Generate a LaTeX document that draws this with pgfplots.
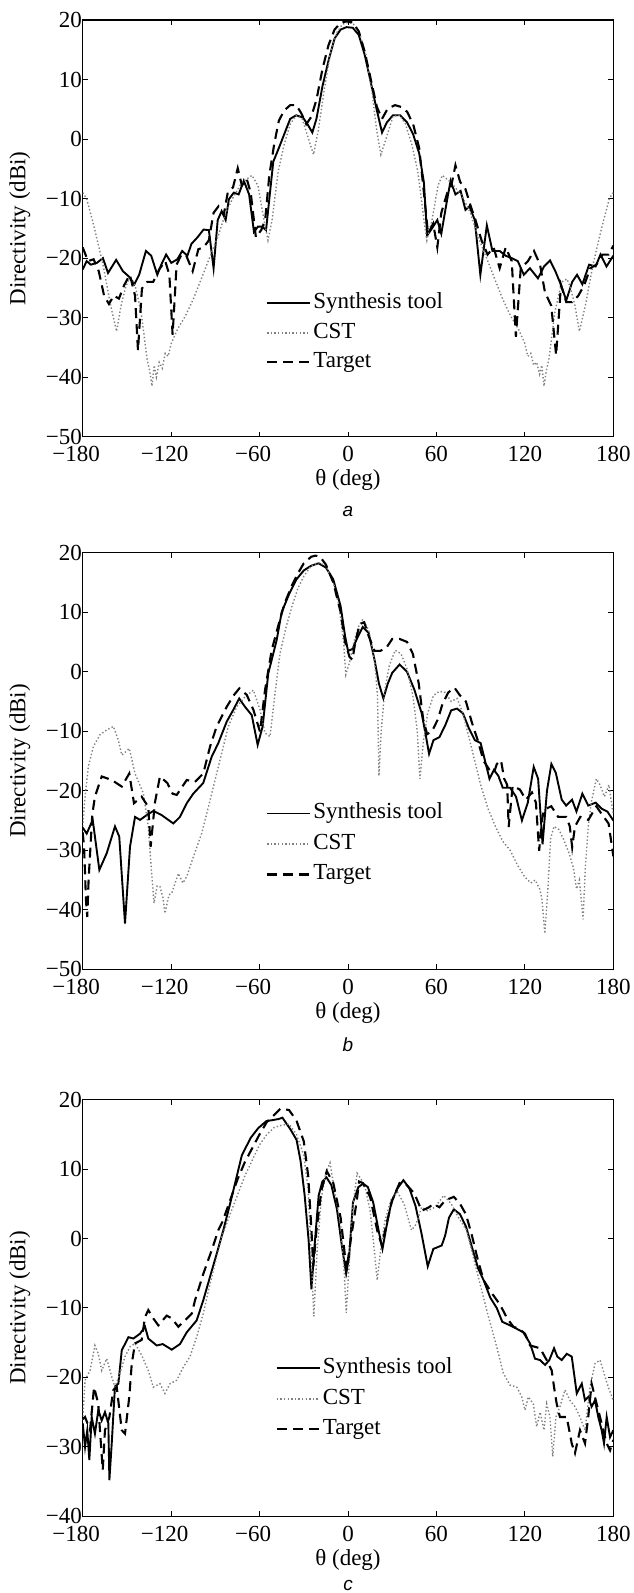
\documentclass[border=0pt]{standalone}
\usepackage{pgfplots}
\pgfplotsset{compat=1.18}
\usepackage{fontspec}
\setmainfont{Liberation Serif}
\newfontfamily\capfont{Liberation Sans}
\definecolor{cstgray}{gray}{0.5}
\newcommand\fsz{\fontsize{23}{27}\selectfont}
\pgfplotsset{
  panel/.style={
    scale only axis, width=530.6pt, height=416.7pt,
    xmin=-180, xmax=180,
    xtick={-180,-120,-60,0,60,120,180},
    xticklabels={\llap{−}180,\llap{−}120,\llap{−}60,0,60,120,180},
    tick align=inside, major tick length=5pt,
    every tick/.style={black, line width=1pt},
    axis line style={line width=1.4pt},
    tick label style={font=\fsz},
    label style={font=\fsz},
    xticklabel style={yshift=-6pt},
    yticklabel style={xshift=2.7pt},
    xlabel={θ (deg)},
    ylabel={Directivity (dBi)},
    xlabel style={at={(axis description cs:0.5,-0.104)}, anchor=center},
    ylabel style={at={(axis description cs:-0.1183,0.5)}, anchor=center},
    legend style={draw=none, fill=none, inner sep=0pt, column sep=2pt, row sep=8.5pt,
      nodes={inner sep=0pt, text height=16pt, text depth=5pt, font=\fsz}},
    legend cell align=left,
    legend image code/.code={\draw[#1] (0pt,0pt) -- (43pt,0pt);},
  },
  synth/.style={black, line width=1.9pt, solid},
  cst/.style={cstgray, line width=1.4pt, dash pattern=on 1.4pt off 2.2pt},
  targ/.style={black, line width=2.1pt, dash pattern=on 10pt off 6pt},
}
\begin{document}
\begin{tikzpicture}
% ---------------- panel a ----------------
\begin{axis}[panel, at={(82.7pt,-436.7pt)}, anchor=south west,
  ymin=-50, ymax=20, ytick={-50,-40,-30,-20,-10,0,10,20},
  yticklabels={−50,−40,−30,−20,−10,0,10,20},
  legend style={at={(axis description cs:0.3455,0.3456)}, anchor=north west}]
\addplot[synth] coordinates {
(-180,-21.9) (-177.3,-20.5) (-174.5,-21.1) (-170.4,-20.8) (-166.3,-20) (-162.8,-22.5) (-157.3,-20.3) (-152.7,-22.2) (-148.6,-23.1) (-145,-24.4) (-141.7,-22.8) (-137.1,-18.8) (-133.5,-19.6) (-129.4,-22.8) (-126.7,-21.1) (-123.4,-19.4) (-119.9,-20.8) (-115.8,-20.2) (-112.5,-18.8) (-109,-19.6) (-106.2,-17.6) (-102.1,-16.5) (-98,-15.2) (-94.4,-15.3) (-91.2,-21.7) (-88.4,-13.6) (-85.7,-12.1) (-83,-13.6) (-80.8,-10.1) (-77.5,-9) (-74.2,-9.3) (-70.7,-7) (-67.1,-9.3) (-63.8,-15.6) (-61.1,-14.7) (-58.3,-14.7) (-55.6,-15.3) (-53.4,-10.1) (-50.7,-3.8) (-46.9,-1.5) (-43.3,0.8) (-39.2,3.4) (-35.1,4) (-30.5,3.6) (-27,2.3) (-24.2,1.1) (-21.4,3.4) (-17.3,8.9) (-13.2,13.2) (-9.1,16.9) (-5,18.4) (-1,18.8) (3.2,18.7) (7.3,17.5) (11.4,14.1) (15.5,9.5) (19.6,4.8) (23.1,1.1) (26.4,2.8) (30.5,4) (35.4,4) (40.1,2.8) (44.2,0.8) (48.3,-2.4) (51.5,-7.3) (53.7,-16.2) (57,-15) (60.6,-13.6) (63.3,-15.9) (66.9,-10.7) (69.6,-7) (72.9,-9.3) (76.4,-8.7) (79.7,-11.9) (82.4,-11.3) (86,-13.6) (89.8,-22.8) (94.2,-14.5) (98,-18.8) (102.9,-18.8) (107,-19.6) (111.1,-20) (115.2,-20.5) (119.3,-22.8) (123.4,-21.7) (128.9,-23.4) (133,-21.4) (137.1,-20.4) (140.7,-22.2) (144.5,-24.5) (148.1,-27.1) (152.1,-24) (155.4,-22.8) (159,-24.4) (163.6,-21.1) (168,-21.4) (171.3,-19.4) (175.4,-21.4) (180,-19.6)};
\addlegendentry{Synthesis tool}
\addplot[cst] coordinates {
(-180,-9) (-177.3,-10) (-172,-15) (-166.3,-21) (-161,-28) (-157,-32.3) (-154,-28) (-151,-25) (-148.6,-23.5) (-145,-24) (-140.4,-29) (-136.3,-37) (-134.5,-39) (-133,-41.5) (-131.5,-38) (-130,-40) (-128.1,-37.5) (-126,-38.5) (-124,-36) (-122,-36.5) (-119.9,-34.3) (-115.8,-32) (-110.3,-29.7) (-104.8,-26.8) (-99.4,-23.4) (-93.9,-19.9) (-88.4,-16.5) (-83,-12.4) (-77.5,-9.6) (-72,-7.3) (-65.2,-6.1) (-61.1,-7.8) (-57,-13.6) (-54.3,-17) (-51.5,-13.6) (-47.4,-5.5) (-43.3,-0.9) (-39.2,2.5) (-35.1,4) (-31.1,3.4) (-27,0.2) (-23.4,-2.6) (-20.2,1.4) (-16.1,8.3) (-12.2,14.1) (-7.8,17.8) (-3.7,19.3) (0,19.6) (3.7,19.3) (7.8,17.8) (12.2,14.1) (16.1,8.3) (19.5,1.4) (22.3,-2.6) (26,0.2) (30.5,3.8) (35,4) (39,2.5) (43.3,-0.9) (47.4,-5.5) (51.5,-13.6) (53.5,-17) (57,-13.6) (61.1,-7.8) (64,-6.1) (70,-7.3) (77.5,-9.6) (83,-12.4) (88.4,-16.5) (93.9,-19.9) (99.4,-23.4) (104.8,-26.8) (110.3,-29.7) (115.8,-32) (119.9,-34.3) (122,-36.5) (124,-36) (126,-38) (128,-37.5) (130,-39.5) (131.5,-38) (133,-41.5) (134.5,-39) (136.3,-37) (140.4,-29) (145,-24) (148.6,-23.5) (151,-25) (154,-28) (157,-32.3) (161,-28) (166.3,-21) (172,-15) (177.3,-10) (180,-9)};
\addlegendentry{CST}
\addplot[targ] coordinates {
(-180,-18.2) (-176.4,-20.5) (-172.6,-20.2) (-169.1,-22.2) (-165.5,-26.3) (-162.2,-27.7) (-158.9,-26.3) (-155.4,-26.8) (-151.8,-24.5) (-148,-22.8) (-144.5,-26.3) (-142.5,-35.5) (-139.8,-25.1) (-136.3,-24) (-132.2,-24) (-128.1,-21.9) (-124,-20.5) (-121.2,-22.8) (-119,-32.9) (-116.3,-21.1) (-113,-19.4) (-109.7,-19.6) (-105.4,-22.2) (-101.5,-18.5) (-98,-18.2) (-94.4,-17) (-91.2,-12.4) (-87.9,-11.3) (-84.3,-12.7) (-81.6,-9) (-78,-8.1) (-74.8,-4.9) (-72,-7.8) (-68.7,-6.7) (-66,-9) (-62.5,-16.5) (-58.9,-15.3) (-56.2,-13.6) (-53.4,-6.1) (-50.1,-0.9) (-46.9,3.1) (-43.3,4.8) (-39.2,5.7) (-35.1,5.7) (-31.6,4.3) (-28.3,2.5) (-25,3.7) (-21.4,6.6) (-17.3,11.8) (-13.2,15.8) (-9.1,18.4) (-5,19.5) (-1,19.8) (3.2,19.6) (7.3,18.1) (11.4,14.6) (15.5,10) (19.6,5.4) (23.1,3.4) (26.9,5.1) (31.9,5.7) (36,5.4) (40.1,4.6) (44.2,2.5) (48.3,-1.5) (51.5,-9) (54.3,-15.9) (57.8,-14.2) (60.6,-18.2) (63.3,-12.4) (67.4,-9) (70.1,-7.8) (72.9,-4.4) (76.1,-7.2) (79.7,-8.4) (83.3,-11.3) (86.5,-13.6) (90.6,-17) (94.7,-19.4) (98.8,-18.2) (102.9,-21.7) (107,-18.2) (111.1,-20.5) (113.9,-33.2) (117.2,-21.7) (122.1,-20.5) (126.2,-18.8) (130.3,-21.1) (133.6,-25.7) (137.9,-28) (141.2,-36.3) (144.5,-24.5) (148.1,-27.4) (152.1,-27.4) (156.3,-26.3) (160.3,-24.5) (164.4,-21.7) (168.5,-21.1) (172.6,-19.4) (176.8,-19.4) (180,-17.9)};
\addlegendentry{Target}
\end{axis}
% ---------------- panel b ----------------
\begin{axis}[panel, at={(82.7pt,-969.3pt)}, anchor=south west,
  ymin=-50, ymax=20, ytick={-50,-40,-30,-20,-10,0,10,20},
  yticklabels={−50,−40,−30,−20,−10,0,10,20},
  legend style={at={(axis description cs:0.3455,0.3997)}, anchor=north west, row sep=9.5pt}]
\addplot[synth] coordinates {
(-180,-26.2) (-177.3,-27.2) (-173.2,-24.9) (-168.7,-33.3) (-163.7,-30.5) (-158.1,-26) (-155.2,-27.7) (-151.3,-42.3) (-147.9,-29.4) (-144.5,-24.4) (-141.1,-24.9) (-136.6,-24.1) (-132.1,-23.4) (-126.4,-24.1) (-118.5,-25.5) (-114,-24.4) (-109.4,-22.1) (-105,-20.5) (-98.2,-18.7) (-92.5,-14.3) (-88,-12) (-82.3,-8.4) (-77.8,-6.4) (-73.8,-4.5) (-69.9,-5.9) (-65.3,-7.3) (-61.3,-12.3) (-57.9,-9.2) (-54.1,-0.3) (-48.4,5.3) (-45,10) (-40,13) (-35,15.5) (-30,17) (-25,17.8) (-20,18.2) (-15,17.5) (-10,15.5) (-5,11) (-2,6) (0,3.5) (3,3.8) (6,5.5) (10,7.5) (14,6.5) (18,2) (21,-2) (24,-4.5) (27,-2) (30,-0.2) (35,1.2) (40,0) (45,-3) (50,-7) (53,-11) (55,-13.8) (58,-11.5) (62,-11) (66,-9) (70,-6.5) (74,-6.2) (78,-7) (82,-9.5) (86,-11.5) (90,-12) (93,-15) (96,-18) (99,-16.5) (102,-17.5) (105,-19.5) (110,-19.5) (114,-21) (118,-25) (122,-22) (126,-16) (129,-18) (132,-29) (135,-20) (138,-15.5) (141,-17) (145,-21.5) (148,-22.5) (152,-21.5) (155,-23.5) (159,-20.5) (163,-22.5) (168,-22) (172,-23) (176,-23.5) (180,-25)};
\addlegendentry{Synthesis tool}
\addplot[cst] coordinates {
(-180,-26) (-178.4,-21) (-176.2,-16) (-172.8,-12.6) (-168.3,-10.6) (-163.7,-9.8) (-159.2,-9.2) (-155.8,-11.5) (-153.5,-14) (-151,-13.5) (-148.4,-12.9) (-144.5,-17.1) (-138.9,-20.4) (-135.5,-26) (-133.2,-33.9) (-131.6,-38.9) (-129.5,-36) (-127.6,-36.1) (-125.5,-38) (-124.2,-40.6) (-121.5,-37.5) (-119.6,-37.2) (-115.1,-33.9) (-112,-35.5) (-109.4,-34.4) (-104.9,-31.1) (-99.3,-27.2) (-94.7,-22.7) (-90.2,-18.2) (-85.7,-13.7) (-81.2,-9.2) (-75.5,-5.9) (-69.9,-4.2) (-64.2,-3.1) (-59.7,-6.4) (-56.3,-10.3) (-52.9,-10.9) (-49.5,-3.6) (-46.1,3.1) (-42,7.5) (-38,11) (-34,14) (-30,16) (-25,17.8) (-20,18.3) (-15,17.8) (-10,15) (-6,11) (-3,5) (-1.5,-0.5) (1,1.5) (4,5) (7,7.5) (10,8.8) (14,7) (18,2) (20,-4) (21,-17.5) (22.5,-10) (25,-3) (28,1) (32,3.6) (36,3) (40,0.5) (44,-4) (47,-10) (48.8,-18) (51,-12) (54,-7) (58,-4) (62,-3.3) (66,-3.5) (70,-5) (74,-4.5) (78,-7) (82,-11) (86,-15) (90,-19) (95,-23) (100,-26) (105,-28.5) (110,-30) (115,-32.5) (120,-34.5) (124,-35.5) (127,-35) (130,-36.5) (131.5,-38) (133.6,-44) (135.5,-37) (137.5,-28) (139.8,-26) (143,-26.5) (146,-28) (150,-30.5) (153,-33) (155,-36.5) (157,-35) (159.5,-41.6) (161,-33) (163,-26) (165,-22) (168.5,-18) (171,-19) (174,-21) (177,-19) (180,-24)};
\addlegendentry{CST}
\addplot[targ] coordinates {
(-180,-27) (-179.1,-29.4) (-178.4,-33.9) (-177.8,-38.4) (-176.9,-41.2) (-176,-35) (-173.5,-24) (-171.7,-21) (-167.1,-17.6) (-160.3,-18.2) (-153.5,-19.3) (-148.4,-17.1) (-145.2,-22.1) (-140,-21) (-135.5,-22.7) (-133.9,-29.4) (-131,-22) (-127.6,-17.6) (-122.6,-18.7) (-119,-20.5) (-116.2,-20.7) (-109.4,-18.2) (-103.8,-18.5) (-98.2,-17.1) (-93.6,-12.6) (-89.1,-9.2) (-82.3,-5.9) (-77.3,-3.9) (-73.7,-2.8) (-68.7,-3.9) (-64.2,-6.4) (-59.7,-10.1) (-56.3,-3.1) (-51.8,3.6) (-47,8) (-43,11.5) (-38,14.5) (-34,16.5) (-30,18.2) (-25,19.3) (-22,19.5) (-19,19.3) (-15,18) (-10,15) (-5,10) (-2,5) (1,2.5) (3,2) (5,5) (8,8) (11,8.3) (14,6) (18,3.5) (22,3.5) (26,4) (30,5.5) (35,5.5) (40,5) (44,3) (48,-2) (51,-8) (53.7,-10.5) (57,-10) (61,-8) (64,-5.5) (68,-3.5) (72.3,-2.7) (76,-4) (80,-5) (84,-8.5) (88,-11.5) (92,-15) (96,-16.5) (99,-17) (101,-15.5) (103.8,-14.9) (106,-18) (108,-19) (109,-26.1) (111.7,-19.2) (116.6,-19.8) (120.7,-21.5) (124.8,-20.3) (127.5,-22) (129.7,-30.1) (131.5,-25) (133,-23.2) (137.9,-22.6) (142.6,-24.4) (148.1,-24.4) (150.5,-26) (152.1,-29.5) (154,-26) (157.6,-24.4) (163.1,-24.9) (168.5,-22.6) (172.6,-24.1) (176.8,-25.5) (179.5,-30.1) (180,-31)};
\addlegendentry{Target}
\end{axis}
% ---------------- panel c ----------------
\begin{axis}[panel, at={(82.7pt,-1516.3pt)}, anchor=south west,
  ymin=-40, ymax=20, ytick={-40,-30,-20,-10,0,10,20},
  yticklabels={−40,−30,−20,−10,0,10,20},
  legend style={at={(axis description cs:0.3634,0.3808)}, anchor=north west, row sep=9.5pt}]
\addplot[synth] coordinates {
(-180,-26.6) (-178.4,-30) (-176.9,-27.6) (-175.5,-31.9) (-173.9,-25.7) (-171.7,-28.1) (-169.4,-24.7) (-167.1,-26.2) (-164.9,-25) (-162.6,-26.6) (-161.9,-34.8) (-160.3,-29.5) (-158.1,-21.3) (-155.8,-20.9) (-153.5,-16.1) (-149,-14.2) (-145.6,-14.4) (-141.1,-13.7) (-137.7,-12.7) (-135.5,-14.4) (-129.8,-15.4) (-125.7,-15.2) (-119.6,-16) (-114,-15.2) (-109.4,-13.5) (-102.7,-11.8) (-98.2,-8.9) (-93.6,-5.5) (-89.1,-2.2) (-84.6,1.2) (-80,5) (-76,8.5) (-72,12) (-66,14.5) (-60.9,15.9) (-55.4,16.9) (-47.2,17.2) (-44.5,17.4) (-39,15.7) (-34.9,14.2) (-32.2,11.2) (-29.4,6.2) (-26.7,-0.3) (-24.8,-7.3) (-22.6,-0.8) (-19.9,6.2) (-17.4,8.2) (-14.6,8.8) (-11.3,7.7) (-7.5,4.2) (-4,-1.3) (-1.3,-5) (0.7,-2.8) (3.4,5.2) (7,7.4) (10.3,7.9) (13.5,7.4) (17.1,5.2) (21.2,0.7) (23.4,-1.5) (26.1,1.7) (29.4,5.2) (33.5,7.2) (37.6,8.4) (41.7,7.2) (45.8,4.7) (49.9,0.7) (54.1,-4) (57.9,-1.5) (63.6,-1) (66,0.5) (68.5,3) (71.8,4.2) (76,3.5) (80.1,1.7) (84.2,-1.3) (88.3,-4.3) (92,-6) (96.5,-8.5) (100.9,-10) (104.7,-12) (109.9,-12.5) (114.5,-13) (118.9,-13.5) (123.5,-15.1) (126.9,-17.3) (130.3,-17.5) (133.7,-18.2) (136.6,-17.5) (139.8,-15.8) (142,-17) (145,-17.5) (148.4,-16.6) (151.8,-17) (155.2,-22.3) (158.6,-20.9) (160.8,-23.3) (163,-22.8) (165.3,-24.2) (167.6,-23.3) (169.8,-25.7) (172.1,-27.6) (173.7,-29.5) (175.5,-25.7) (177.8,-28.6) (180,-27.6)};
\addlegendentry{Synthesis tool}
\addplot[cst] coordinates {
(-180,-26.1) (-178.4,-20.4) (-175,-19) (-171.7,-15.4) (-169.4,-16.6) (-167.1,-19) (-163.7,-17.3) (-160.3,-19.9) (-158.1,-21.4) (-154.7,-19.4) (-151.3,-17) (-147.9,-15.6) (-144.5,-15.1) (-140,-16.8) (-135.5,-19) (-132.1,-21.4) (-127.6,-20.9) (-124.2,-22.3) (-120.8,-20.9) (-116.2,-20.4) (-111.7,-18.5) (-107.2,-17) (-102.7,-14.2) (-98.2,-10.8) (-93.6,-6.5) (-89.1,-2.7) (-85.7,0.2) (-80,3.5) (-70,9) (-60,13.5) (-55,15) (-50,16) (-45,16.3) (-40,16.5) (-35,15) (-30,12) (-27,7) (-25,-2) (-23.2,-11.2) (-21,-2) (-18,6) (-15,9.5) (-12.2,10.9) (-10,8) (-5,2) (-2.5,-5) (-1.2,-10.7) (1,-3) (3.5,5) (6.2,9.4) (9,8.5) (12,7) (15,4) (18,-2) (19.8,-6) (22,-2) (25,2.5) (29,5.5) (33.5,6.7) (38,5) (43.1,1.2) (46,2) (50,4.5) (54,4) (59,4.5) (65,6.2) (70,5) (75,3) (80.5,1.2) (87.3,-4.6) (94.1,-10.3) (100.9,-15.6) (105.4,-19.4) (109.9,-21.1) (114.5,-21.4) (117.9,-22.8) (120.1,-24.7) (122.3,-22.8) (125.7,-23.8) (128,-27.1) (130.3,-25) (133,-27.6) (134.8,-23.8) (137,-25.7) (138.9,-31.4) (141.1,-25.7) (143.8,-24.2) (147.2,-21.8) (150.6,-23.3) (154,-24.2) (157.4,-25.7) (160.8,-27.6) (164.2,-21.4) (167.6,-18) (171,-17.5) (173.7,-19.4) (176.6,-21.4) (180,-23.3)};
\addlegendentry{CST}
\addplot[targ] coordinates {
(-180,-26) (-178.4,-25.7) (-175,-27.6) (-172.3,-21.4) (-169.4,-23.8) (-168.3,-27.6) (-166.4,-33.3) (-164.9,-27.6) (-161.9,-25.7) (-159.2,-21.8) (-156.9,-21.4) (-153.5,-27.6) (-151.3,-28.1) (-148.4,-22.8) (-146.7,-18) (-144.5,-15.1) (-140,-14.6) (-137.7,-11.3) (-135.5,-10.3) (-132.1,-11.5) (-128.7,-12.5) (-123,-11.1) (-119.6,-11.5) (-115.1,-12.7) (-110.6,-11.8) (-106,-10.8) (-103.8,-8.9) (-98.2,-5.1) (-92.5,-1.7) (-88,1.2) (-85,2.5) (-80,5.5) (-75,8.5) (-70,11) (-65,13) (-60,15) (-55,16.8) (-50,17.8) (-45.9,18.7) (-40,18.5) (-35,17) (-30,14) (-27,9) (-25,2) (-23.5,-4) (-21.5,1) (-18,7) (-14.4,9.7) (-10,8) (-5,3) (-1,-4.5) (2,0) (6,5.5) (7.5,8.2) (10,8) (15,6) (20,1) (23,-1) (26,2) (30,5.5) (35,8) (39,7.9) (45,6.5) (50,4) (55,4.5) (58,5) (62,4.5) (66,5.5) (71.8,6) (76,5) (80,3.5) (84,0.5) (88,-3) (92,-6) (98,-8) (103.1,-9.5) (108,-11.5) (112.2,-12.7) (116,-13) (120.1,-13.7) (123.5,-15.4) (127,-15.6) (130.3,-15.8) (134.8,-17.5) (138.2,-19) (139.8,-21.4) (141.6,-23.8) (143.8,-25.7) (148.4,-25.7) (151.8,-29.5) (154,-30.9) (157.4,-27.6) (160.8,-29.5) (163,-25.7) (165.3,-20.9) (168.7,-23.8) (171,-25.7) (173.2,-27.6) (175.5,-29.5) (177.8,-30.5) (180,-29)};
\addlegendentry{Target}
\end{axis}
% captions
\node[font=\capfont\itshape\fontsize{19}{22}\selectfont, anchor=center] at (348pt,-511.7pt) {a};
\node[font=\capfont\itshape\fontsize{19}{22}\selectfont, anchor=center] at (348pt,-1044.3pt) {b};
\node[font=\capfont\itshape\fontsize{19}{22}\selectfont, anchor=center] at (348pt,-1585pt) {c};
\pgfresetboundingbox
\useasboundingbox (0pt,0pt) rectangle (633pt,-1593pt);
\end{tikzpicture}
\end{document}
